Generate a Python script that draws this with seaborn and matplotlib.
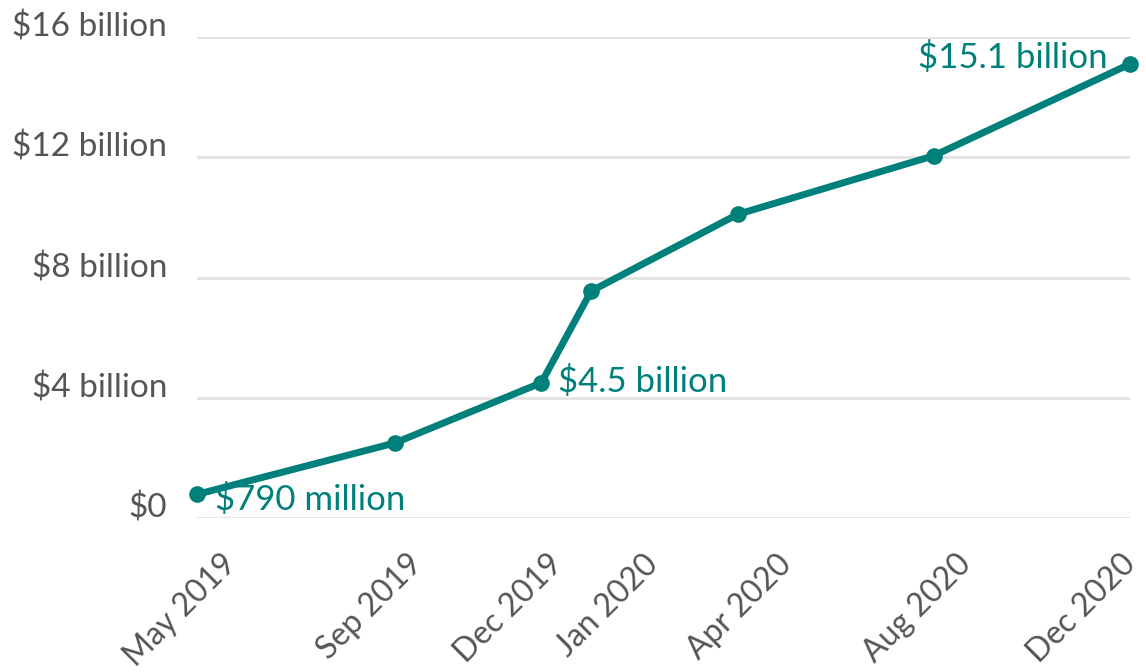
import pandas as pd
import numpy as np
import matplotlib.pyplot as plt
import matplotlib.transforms as mtransforms
import seaborn as sns

# Data (billions of dollars)
months = ['2019-05', '2019-09', '2019-12', '2020-01', '2020-04', '2020-08', '2020-12']
values = [0.79, 2.5, 4.5, 7.55, 10.1, 12.05, 15.1]
tick_labels = ['May 2019', 'Sep 2019', 'Dec 2019', 'Jan 2020', 'Apr 2020', 'Aug 2020', 'Dec 2020']
y_ticks = [0, 4, 8, 12, 16]
y_labels = ['$0', '$4 billion', '$8 billion', '$12 billion', '$16 billion']
callouts = {'2019-05': '$790 million', '2019-12': '$4.5 billion', '2020-12': '$15.1 billion'}

df = pd.DataFrame({'date': pd.to_datetime(months), 'value': values})

teal = '#00807a'
grey_text = '#555555'

sns.set_theme(style='white')
plt.rcParams['font.family'] = ['Lato', 'DejaVu Sans']

fig = plt.figure(figsize=(11.46, 6.72), dpi=100)
ax = fig.add_axes([0.172, 0.229, 0.814, 0.716])

sns.lineplot(data=df, x='date', y='value', color=teal, linewidth=5,
             marker='o', markersize=12, markeredgewidth=0, ax=ax, clip_on=False, zorder=3)

ax.set_xlim(df['date'].iloc[0], df['date'].iloc[-1])
ax.set_ylim(0, 16)
ax.set_yticks(y_ticks)
ax.set_xticks(df['date'])
ax.tick_params(length=0, labelleft=False, labelbottom=False)
ax.yaxis.grid(True, color='#e2e2e2', linewidth=2)
ax.xaxis.grid(False)
sns.despine(ax=ax, left=True, bottom=True)
ax.set_xlabel('')
ax.set_ylabel('')

def px(dx, dy):
    return mtransforms.ScaledTranslation(dx / 100, dy / 100, fig.dpi_scale_trans)

# y labels sit a little above their grid lines
for v, lab in zip(y_ticks, y_labels):
    ax.text(0, v, lab, transform=ax.get_yaxis_transform() + px(-30, 10),
            ha='right', va='center', fontsize=24, color=grey_text)

# rotated date labels, staggered slightly as in the original
nudges = [24, 12, 6, 52, 39, 22, -10]
for dt, lab, dx in zip(df['date'], tick_labels, nudges):
    ax.text(dt, 0, lab, transform=ax.get_xaxis_transform() + px(dx, -31),
            rotation=45, rotation_mode='anchor', ha='right', va='top',
            fontsize=23, color=grey_text)

# Callout labels
d = df.set_index(df['date'].dt.strftime('%Y-%m'))
ax.annotate(callouts['2019-05'], (d.loc['2019-05', 'date'], d.loc['2019-05', 'value']),
            xytext=(13, -4), textcoords='offset points', fontsize=25, color=teal,
            ha='left', va='center')
ax.annotate(callouts['2019-12'], (d.loc['2019-12', 'date'], d.loc['2019-12', 'value']),
            xytext=(12, 1), textcoords='offset points', fontsize=25, color=teal,
            ha='left', va='center')
ax.annotate(callouts['2020-12'], (d.loc['2020-12', 'date'], d.loc['2020-12', 'value']),
            xytext=(-16, 5), textcoords='offset points', fontsize=25, color=teal,
            ha='right', va='center')

fig.savefig('out.png', dpi=100)
